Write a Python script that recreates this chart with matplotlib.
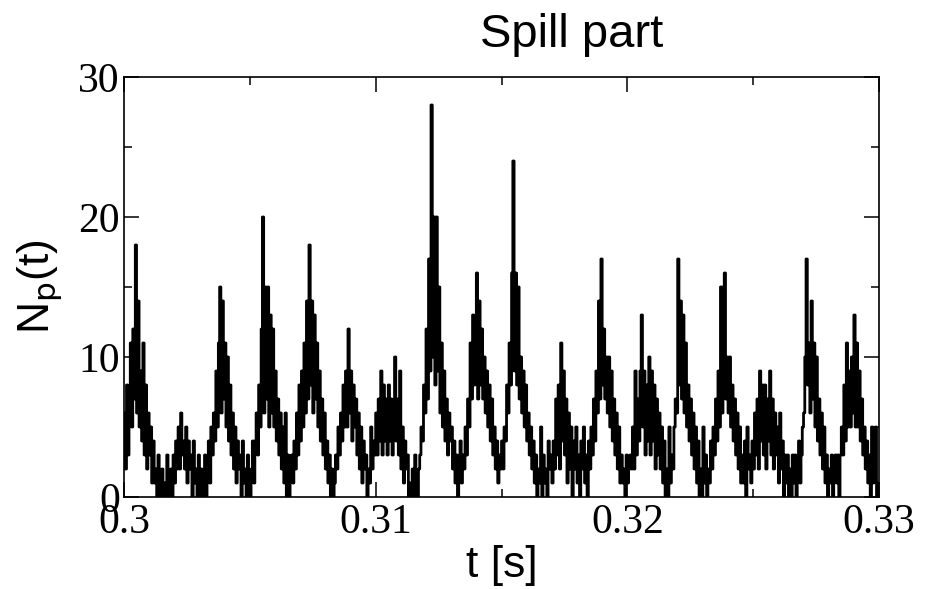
import numpy as np
import matplotlib
matplotlib.use("Agg")
import matplotlib.pyplot as plt

# Time axis: bins of 50 microseconds from 0.300 s to 0.330 s
t_start = 0.300
bin_width = 0.00005

# Counts per bin (in segments)
counts_a = [6,2,8,3,6,11,5,12,7,18,6,14,5,9,4,11,3,8,2,6,3,5,1,
            4,1,2,0,3,1,
            0,2,0,1,0,3,0,1,2,0,3,1,4,2,5,2,6,3,4,2,5,1,4,2,3,0,4,1,2,0,3,0,2,0,1,3,0,2,
            4,1,5,3,6,4,9,5,11,15,6,14,7,11,5,10,4,8,3,6,2,5,1,4,2,
            3,0,4,1,2,0,3,1]
counts_b = [0,2,4,1,
            4,6,3,8,5,12,20,6,15,7,15,5,13,6,12,5,9,4,7,3,6,2,
            5,1,6,0,3,0,2,
            3,1,4,2,6,3,8,4,9,5,11,6,14,7,18,8,14,6,13,7,11,5,9,4,7,3,6,2,
            4,1,3,0,2,0,1,3,
            2,5,3,6,4,8,5,9,5,12,6,9,4,8,5,7,3,6,2,5,1,4,2,3,
            0,2,1,5,2,4,
            3,6,3,7,4,9,3]
counts_c = [8,4,7,3,8,4,7,3,6,10,4,7,3,9,2,5,1,4,2,3,0,1,
            0,2,0,3,1,0,2,
            3,5,4,8,6,12,7,17,9,28,10,20,8,20,9,15,6,11,5,9,4,7,3,6,4,5,
            2,4,1,3,0,2,4,1,3,2,5,
            3,7,5,11,7,13,8,11,16,7,14,8,12,7,10,6,9,5,8,4,7,3,5,2,4,
            1,3,2,4,
            2,5,4,8,6,11,8,16,24,9,16,8,15,7,10,6,9,5,8,4]
counts_d = [6,3,5,
            2,4,1,3,0,2,1,5,0,3,1,2,0,4,2,
            3,1,4,2,7,3,8,2,11,4,9,3,7,1,6,2,5,0,4,2,5,1,3,0,4,2,5,
            1,3,0,4,
            2,5,3,7,4,9,6,14,7,17,8,12,7,10,6,10,5,9,4,7,3,6,2,5,1,
            3,1,2,0,3,1,2,3,
            2,5,2,9,3,7,4,9,13,5,9,3,8,4,10,3,9,4,8,2,7,3,6,2,5,1,
            4,0,2,0,5,1,3,2,
            5,7,6,17,8,14,7,13,6,11,5,8,4,7,3,6,2,5,1,4,
            0,2,0,5,1,3,0,2,1,4,2]
counts_e = [5,3,7,4,9,5,15,6,15,16,7,10,6,10,5,8,4,7,3,6,2,5,1,
            3,1,4,0,5,2,3,1,
            4,2,6,3,7,2,9,4,8,3,8,2,7,4,9,3,7,2,6,3,5,1,6,2,4,0,3,
            1,3,0,2,0,3,1,3,0,2,4,1,3,
            5,6,10,17,8,11,6,14,7,11,5,10,4,7,3,6,2,5,1,
            3,0,2,1,3,0,2,3,1,3,0,
            3,5,3,8,4,11,5,9,5,10,6,13,5,11,5,9,4,7,3,5,
            2,4,1,3,0,5,1,3,5,0,1]

counts = np.array(counts_a + counts_b + counts_c + counts_d + counts_e, dtype=float)
edges = t_start + bin_width * np.arange(len(counts) + 1)

plt.rcParams['font.family'] = ['Liberation Serif', 'DejaVu Serif']
sans = ['Liberation Sans Narrow', 'Liberation Sans', 'DejaVu Sans']

fig = plt.figure(figsize=(9.3, 5.89), dpi=100)
ax = fig.add_axes([0.1333, 0.1562, 0.8119, 0.7131])

ax.step(edges, np.append(counts, counts[-1]), where='post', color='black', lw=2.0)

ax.set_xlim(0.300, 0.330)
ax.set_ylim(0, 30)
ax.set_xticks([0.30, 0.31, 0.32, 0.33])
ax.set_xticklabels(['0.3', '0.31', '0.32', '0.33'])
ax.set_yticks([0, 10, 20, 30])
ax.set_yticklabels(['0', '10', '20', '30'])
ax.set_xticks(np.arange(0.305, 0.33, 0.01), minor=True)
ax.set_yticks([5, 15, 25], minor=True)

ax.tick_params(which='both', direction='in', top=True, right=True, width=1.1)
ax.tick_params(which='major', length=11, labelsize=30)
ax.tick_params(axis='x', which='major', pad=5)
ax.tick_params(axis='y', which='major', pad=3)
ax.tick_params(which='minor', length=5.5)
for s in ax.spines.values():
    s.set_linewidth(1.2)

fig.text(572 / 930, 1 - 47 / 589, 'Spill part', family=sans, fontsize=34,
         ha='center', va='baseline')
ax.set_xlabel('t [s]', family=sans, fontsize=32, labelpad=2)
ax.set_ylabel(r'N$_\mathsf{p}$(t)', family=sans, fontsize=32, labelpad=10)

fig.savefig('out.png', dpi=100)
